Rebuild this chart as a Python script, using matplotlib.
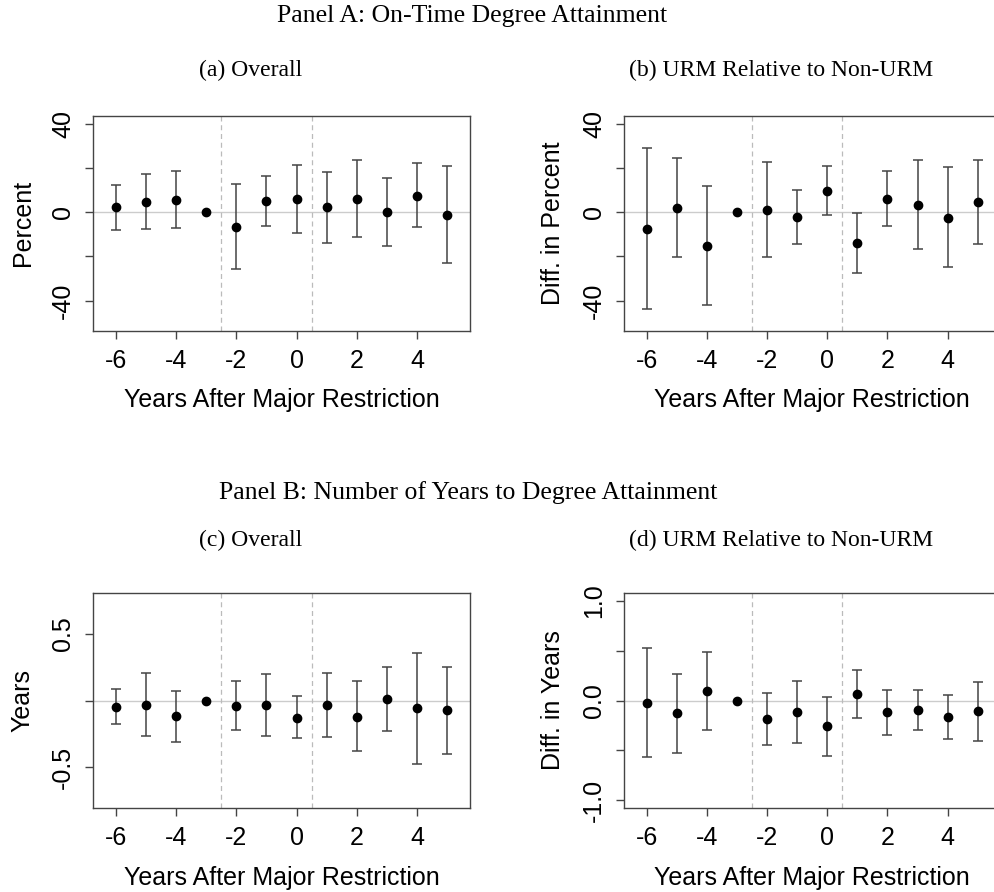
import numpy as np
from matplotlib import pyplot as plt

plt.rcParams['axes.unicode_minus'] = False

years = [-6, -5, -4, -3, -2, -1, 0, 1, 2, 3, 4, 5]

# Panel A (a): on-time degree, overall (percent)
a_est = [2.2, 4.6, 5.5, 0.0, -6.6, 4.9, 6.0, 2.1, 6.1, -0.1, 7.5, -1.3]
a_hi = [12.3, 17.1, 18.6, 0.0, 12.6, 16.2, 21.1, 18.1, 23.7, 15.3, 22.2, 20.8]
a_lo = [-8.1, -7.8, -7.3, 0.0, -25.6, -6.3, -9.3, -13.9, -11.2, -15.1, -6.7, -23.2]

# Panel A (b): URM relative to non-URM (percent)
b_est = [-7.5, 1.9, -15.3, 0.0, 0.9, -2.2, 9.7, -13.8, 6.1, 3.4, -2.5, 4.5]
b_hi = [28.8, 24.7, 11.7, 0.0, 22.5, 10.0, 21.0, -0.4, 18.7, 23.7, 20.4, 23.5]
b_lo = [-43.9, -20.5, -41.9, 0.0, -20.5, -14.4, -1.2, -27.3, -6.3, -16.5, -25.0, -14.4]

# Panel B (c): years to degree, overall
c_est = [-0.048, -0.033, -0.12, 0.0, -0.038, -0.035, -0.128, -0.035, -0.123, 0.015, -0.06, -0.073]
c_hi = [0.083, 0.21, 0.075, 0.0, 0.145, 0.198, 0.033, 0.208, 0.143, 0.255, 0.355, 0.255]
c_lo = [-0.18, -0.27, -0.315, 0.0, -0.218, -0.268, -0.28, -0.275, -0.383, -0.228, -0.475, -0.40]

# Panel B (d): URM relative to non-URM (years)
d_est = [-0.023, -0.13, 0.097, 0.0, -0.183, -0.117, -0.26, 0.063, -0.12, -0.093, -0.163, -0.11]
d_hi = [0.527, 0.267, 0.487, 0.0, 0.073, 0.197, 0.037, 0.31, 0.103, 0.11, 0.057, 0.187]
d_lo = [-0.57, -0.53, -0.297, 0.0, -0.443, -0.427, -0.553, -0.18, -0.343, -0.297, -0.383, -0.407]

W, H = 994, 892
SANS = 'Liberation Sans'
SERIF = 'Liberation Serif'

fig = plt.figure(figsize=(W / 100, H / 100), dpi=100)


def box(l, t, r, b):
    return [l / W, 1 - b / H, (r - l) / W, (b - t) / H]


def event_plot(rect, est, lo, hi, ylim, yticks, ylabels, ylab):
    ax = fig.add_axes(rect)
    x = np.array(years)
    est = np.array(est)
    lo = np.array(lo)
    hi = np.array(hi)
    ax.axhline(0, color='#cccccc', lw=1.0, zorder=1)
    for v in (-2.5, 0.5):
        ax.axvline(v, color='#bbbbbb', lw=0.9, ls=(0, (4, 3)), zorder=1)
    has_ci = x != -3
    ax.errorbar(x[has_ci], est[has_ci],
                yerr=[est[has_ci] - lo[has_ci], hi[has_ci] - est[has_ci]],
                fmt='none', ecolor='#444444', elinewidth=1.1, capsize=3.8,
                capthick=1.1, zorder=2)
    ax.plot(x, est, 'o', color='black', ms=6, zorder=3)
    ax.set_xlim(-6.75, 5.76)
    ax.set_ylim(*ylim)
    ax.set_xticks([-6, -4, -2, 0, 2, 4])
    ax.set_yticks(yticks)
    ax.set_yticklabels(ylabels)
    for lab in ax.get_xticklabels() + ax.get_yticklabels():
        lab.set_fontfamily(SANS)
        lab.set_fontsize(18)
    for lab in ax.get_yticklabels():
        lab.set_rotation(90)
        lab.set_va('center')
    ax.tick_params(direction='out', length=6, width=1.0, color='#444444', pad=7)
    for s in ax.spines.values():
        s.set_color('#444444')
        s.set_linewidth(1.0)
    ax.set_xlabel('Years After Major Restriction', fontfamily=SANS, fontsize=18, labelpad=11)
    ax.set_ylabel(ylab, fontfamily=SANS, fontsize=18, labelpad=12)
    return ax


pct_ticks = [-40, -20, 0, 20, 40]
pct_labels = ['-40', '', '0', '', '40']

event_plot(box(93.3, 115.7, 470, 330.7), a_est, a_lo, a_hi,
           (-53.6, 43.6), pct_ticks, pct_labels, 'Percent')
event_plot(box(624, 115.7, 1000.7, 330.7), b_est, b_lo, b_hi,
           (-53.6, 43.6), pct_ticks, pct_labels, 'Diff. in Percent')
event_plot(box(93.3, 592.7, 470, 808.3), c_est, c_lo, c_hi,
           (-0.81, 0.81), [-0.5, 0, 0.5], ['-0.5', '', '0.5'], 'Years')
event_plot(box(624, 592.7, 1000.7, 808.3), d_est, d_lo, d_hi,
           (-1.08, 1.08), [-1.0, -0.5, 0, 0.5, 1.0], ['-1.0', '', '0.0', '', '1.0'],
           'Diff. in Years')

fig.text(472 / W, 1 - 16 / H, 'Panel A: On-Time Degree Attainment',
         ha='center', va='center', fontfamily=SERIF, fontsize=18.5)
fig.text(251 / W, 1 - 70 / H, '(a) Overall', ha='center', va='center',
         fontfamily=SERIF, fontsize=17)
fig.text(781 / W, 1 - 70 / H, '(b) URM Relative to Non-URM', ha='center', va='center',
         fontfamily=SERIF, fontsize=17)
fig.text(468 / W, 1 - 493 / H, 'Panel B: Number of Years to Degree Attainment',
         ha='center', va='center', fontfamily=SERIF, fontsize=18.5)
fig.text(251 / W, 1 - 540 / H, '(c) Overall', ha='center', va='center',
         fontfamily=SERIF, fontsize=17)
fig.text(781 / W, 1 - 540 / H, '(d) URM Relative to Non-URM', ha='center', va='center',
         fontfamily=SERIF, fontsize=17)

fig.savefig('out.png', dpi=100)
